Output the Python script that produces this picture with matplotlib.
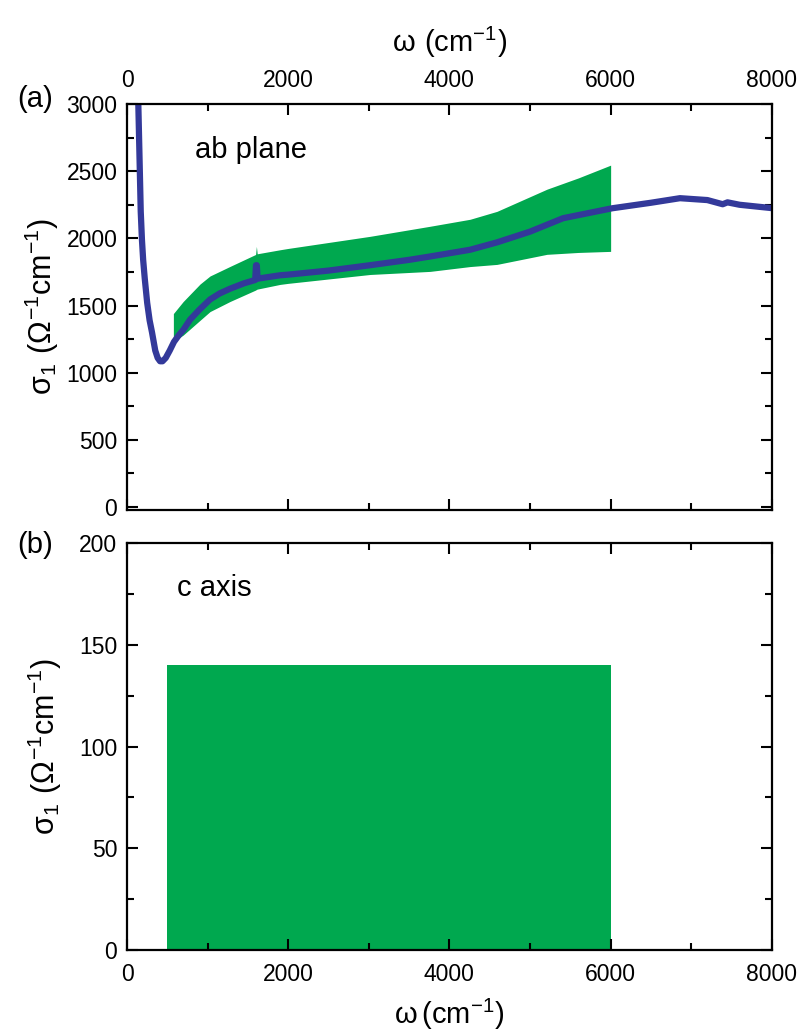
import matplotlib
matplotlib.use("Agg")
import matplotlib.pyplot as plt
from matplotlib.ticker import MultipleLocator

plt.rcParams['font.family'] = ['Liberation Sans', 'DejaVu Sans']
plt.rcParams['mathtext.fontset'] = 'custom'
plt.rcParams['mathtext.rm'] = 'Liberation Sans'
plt.rcParams['mathtext.default'] = 'regular'

# ab-plane optical conductivity (cm^-1, Ohm^-1 cm^-1)
omega_ab = [120, 140, 155, 170, 185, 200, 220, 250, 280, 310, 350, 380, 410,
            440, 480, 530, 583, 650, 700, 782, 900, 1030, 1150, 1278, 1450,
            1590, 1600, 1610, 1620, 1898, 2000, 2500, 3015, 3500, 3760, 4256,
            4590, 5000, 5410, 6020, 6500, 6860, 7200, 7390, 7450, 7600, 8000]
sigma_ab = [3700, 3000, 2600, 2200, 1990, 1840, 1700, 1520, 1390, 1300, 1165,
            1110, 1085, 1085, 1110, 1165, 1230, 1285, 1320, 1395, 1470, 1545,
            1590, 1625, 1665, 1690, 1800, 1800, 1700, 1725, 1730, 1760, 1800,
            1840, 1865, 1915, 1970, 2050, 2150, 2224, 2265, 2299, 2285, 2254,
            2268, 2250, 2225]

# ab-plane uncertainty band
omega_band = [575, 697, 906, 1030, 1278, 1595, 1605, 1615, 1898, 2000, 3015,
              3760, 4256, 4590, 5210, 5600, 6000]
band_hi = [1440, 1530, 1660, 1720, 1791, 1880, 1940, 1885, 1915, 1925, 2015,
           2090, 2142, 2201, 2366, 2450, 2545]
band_lo = [1230, 1280, 1390, 1455, 1530, 1615, 1619, 1622, 1657, 1665, 1731,
           1754, 1790, 1806, 1881, 1895, 1903]

# c-axis bound
c_omega = [500, 6000]
c_sigma_max = 140

blue = '#33399a'
green = '#00a84f'

fig = plt.figure(figsize=(8.04, 10.34), dpi=100)
ax1 = fig.add_axes([0.158, 0.5068, 0.802, 0.3926])
ax2 = fig.add_axes([0.158, 0.0812, 0.802, 0.3936])

ax1.fill_between(omega_band, band_lo, band_hi, color=green, lw=0, zorder=1)
ax1.plot(omega_ab, sigma_ab, color=blue, lw=4.5, solid_capstyle='round',
         solid_joinstyle='round', zorder=2)
ax1.set_xlim(0, 8000)
ax1.set_ylim(-22, 3000)

ax2.fill_between(c_omega, [0, 0], [c_sigma_max, c_sigma_max], color=green, lw=0)
ax2.set_xlim(0, 8000)
ax2.set_ylim(0, 200)

for ax in (ax1, ax2):
    for s in ax.spines.values():
        s.set_linewidth(1.6)
    ax.xaxis.set_major_locator(MultipleLocator(2000))
    ax.xaxis.set_minor_locator(MultipleLocator(1000))
    ax.tick_params(which='both', direction='in', top=True, right=True,
                   width=1.5, labelsize=16.5, colors='black')
    ax.tick_params(which='major', length=8)
    ax.tick_params(which='minor', length=5)
    ax.tick_params(axis='y', pad=7)
    ax.tick_params(axis='x', pad=9)

ax1.yaxis.set_major_locator(MultipleLocator(500))
ax1.yaxis.set_minor_locator(MultipleLocator(250))
ax1.tick_params(axis='x', labelbottom=False, labeltop=True)
ax1.xaxis.set_label_position('top')
ax1.set_xlabel(r'$\omega\ (cm^{-1})$', fontsize=21, labelpad=12)

ax2.yaxis.set_major_locator(MultipleLocator(50))
ax2.yaxis.set_minor_locator(MultipleLocator(25))
ax2.set_xlabel(r'$\omega\,(cm^{-1})$', fontsize=21, labelpad=8)

ylab = r'$\sigma_1\ (\Omega^{-1}cm^{-1})$'
ax1.set_ylabel(ylab, fontsize=22, labelpad=4)
ax2.set_ylabel(ylab, fontsize=22, labelpad=11)

ax1.text(845, 2600, 'ab plane', fontsize=21, ha='left', va='baseline')
ax2.text(620, 174, 'c axis', fontsize=21, ha='left', va='baseline')

fig.text(0.022, 1 - 107 / 1034, '(a)', fontsize=21, ha='left', va='baseline')
fig.text(0.022, 1 - 553 / 1034, '(b)', fontsize=21, ha='left', va='baseline')

fig.savefig('out.png', dpi=100)
